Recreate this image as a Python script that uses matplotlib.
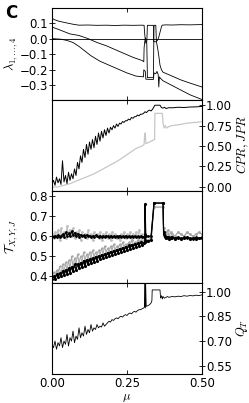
import numpy as np
import matplotlib
matplotlib.use("Agg")
import matplotlib.pyplot as plt

plt.rcParams['font.size'] = 8.5
plt.rcParams['mathtext.fontset'] = 'cm'

# panel 1: eigenvalues lambda_1..4
mu_l1 = [0, 0.01, 0.02, 0.04, 0.05, 0.07, 0.09, 0.12, 0.15, 0.18, 0.21, 0.24, 0.27, 0.30, 0.307,
         0.309, 0.311, 0.313, 0.316, 0.318, 0.338, 0.339, 0.347, 0.352, 0.356, 0.36, 0.364, 0.367,
         0.38, 0.40, 0.43, 0.46, 0.50]
lam1 = [0.13, 0.12, 0.113, 0.104, 0.10, 0.092, 0.086, 0.087, 0.085, 0.086, 0.084, 0.086, 0.085, 0.086, 0.085,
        0.03, -0.01, -0.03, -0.02, 0.085, 0.085, -0.02, -0.02, -0.01, 0.01, 0.04, 0.07, 0.086,
        0.088, 0.087, 0.089, 0.088, 0.09]
mu_l2 = [0, 0.02, 0.04, 0.06, 0.09, 0.12, 0.15, 0.18, 0.21, 0.24, 0.27, 0.30, 0.306,
         0.307, 0.309, 0.312, 0.316, 0.318, 0.338, 0.34, 0.346, 0.348, 0.352, 0.356, 0.36, 0.365,
         0.37, 0.40, 0.43, 0.46, 0.50]
lam2 = [0.074, 0.06, 0.045, 0.03, 0.02, 0.0, -0.025, -0.045, -0.07, -0.095, -0.12, -0.14, -0.148,
        -0.06, -0.02, 0.005, -0.03, -0.25, -0.25, 0.085, 0.085, -0.02, -0.06, -0.11, -0.17, -0.2,
        -0.215, -0.24, -0.265, -0.285, -0.31]
mu_l3 = [0, 0.03, 0.05, 0.07, 0.09, 0.11, 0.13, 0.16, 0.19, 0.22, 0.25, 0.28, 0.305,
         0.306, 0.309, 0.311, 0.313, 0.338, 0.34, 0.346, 0.35, 0.354, 0.356, 0.358, 0.362,
         0.37, 0.40, 0.43, 0.46, 0.50]
lam3 = [0.0, -0.004, -0.012, -0.025, -0.05, -0.08, -0.11, -0.145, -0.17, -0.195, -0.22, -0.24, -0.245,
        -0.2, -0.205, -0.21, -0.26, -0.262, -0.22, -0.225, -0.21, -0.23, -0.31, -0.245, -0.255,
        -0.27, -0.3, -0.33, -0.36, -0.39]

# panel 2: CPR (black) and JPR (gray)
cpr_head = [0.04, 0.08, 0.02, 0.12, 0.05, 0.10, 0.03, 0.32, 0.06, 0.14, 0.04, 0.18, 0.08, 0.16, 0.10,
            0.22, 0.14, 0.30, 0.22, 0.38, 0.30, 0.46, 0.36, 0.52, 0.40, 0.55, 0.46, 0.58, 0.48, 0.62,
            0.52, 0.66, 0.56, 0.68, 0.60, 0.70, 0.63, 0.72, 0.66, 0.73, 0.70, 0.75, 0.72, 0.77, 0.74,
            0.78, 0.77, 0.80, 0.79, 0.81, 0.81, 0.83, 0.82, 0.85, 0.84, 0.86, 0.86, 0.88, 0.87, 0.89, 0.89]
mu_cpr_tail = [0.305, 0.31, 0.315, 0.32, 0.325, 0.33, 0.335, 0.343, 0.35, 0.36, 0.365, 0.37, 0.375,
               0.38, 0.39, 0.40, 0.42, 0.44, 0.46, 0.48, 0.50]
cpr_tail = [0.90, 0.92, 0.91, 0.93, 0.94, 0.93, 0.95, 1.0, 1.0, 1.0, 0.97, 0.965, 0.975,
            0.96, 0.97, 0.968, 0.975, 0.972, 0.978, 0.98, 0.985]
mu_jpr = [0, 0.02, 0.04, 0.06, 0.08, 0.10, 0.12, 0.14, 0.16, 0.18, 0.20, 0.22, 0.24, 0.26, 0.28,
          0.30, 0.307, 0.309, 0.311, 0.313, 0.32, 0.33, 0.342, 0.343, 0.368, 0.37, 0.374, 0.378,
          0.382, 0.39, 0.40, 0.42, 0.45, 0.48, 0.50]
jpr = [0.0, 0.0, 0.02, 0.04, 0.07, 0.10, 0.13, 0.16, 0.20, 0.24, 0.28, 0.32, 0.37, 0.42, 0.47,
       0.50, 0.52, 0.65, 0.66, 0.53, 0.54, 0.56, 0.58, 0.90, 0.90, 0.78, 0.72, 0.75, 0.72,
       0.74, 0.75, 0.76, 0.78, 0.79, 0.80]

# panel 3: T_{X,Y,J}
t_flat_black = [0.600, 0.595, 0.603, 0.598, 0.605, 0.597, 0.602, 0.610, 0.598, 0.620, 0.603, 0.615,
                0.600, 0.625, 0.605, 0.618, 0.602, 0.612, 0.598, 0.608, 0.600, 0.604, 0.597, 0.606,
                0.600, 0.603, 0.596, 0.602, 0.598, 0.604, 0.600, 0.597, 0.603, 0.598, 0.601, 0.596,
                0.603, 0.599, 0.595, 0.602, 0.598, 0.600, 0.596, 0.601, 0.598, 0.603, 0.597, 0.600,
                0.595, 0.602, 0.598, 0.600, 0.596, 0.601, 0.597, 0.600, 0.595, 0.599, 0.596, 0.600, 0.598]
t_flat_gray = [0.61, 0.59, 0.62, 0.60, 0.63, 0.58, 0.64, 0.60, 0.62, 0.59, 0.65, 0.61, 0.63, 0.60, 0.64,
               0.59, 0.62, 0.61, 0.63, 0.58, 0.62, 0.60, 0.61, 0.59, 0.63, 0.60, 0.61, 0.58, 0.62, 0.60,
               0.61, 0.59, 0.62, 0.58, 0.61, 0.60, 0.62, 0.59, 0.61, 0.58, 0.62, 0.60, 0.61, 0.59, 0.60,
               0.58, 0.61, 0.60, 0.62, 0.59, 0.61, 0.60, 0.62, 0.58, 0.61, 0.60, 0.62, 0.59, 0.63, 0.60, 0.61]
t_rise_black = [0.385, 0.400, 0.388, 0.410, 0.395, 0.415, 0.400, 0.428, 0.405, 0.432, 0.412, 0.440,
                0.418, 0.448, 0.425, 0.460, 0.432, 0.462, 0.440, 0.468, 0.445, 0.478, 0.452, 0.482,
                0.460, 0.485, 0.465, 0.492, 0.472, 0.498, 0.478, 0.502, 0.485, 0.508, 0.490, 0.512,
                0.496, 0.518, 0.502, 0.524, 0.508, 0.528, 0.512, 0.534, 0.518, 0.538, 0.522, 0.544,
                0.528, 0.548, 0.532, 0.554, 0.538, 0.558, 0.542, 0.562, 0.548, 0.566, 0.552, 0.570, 0.558]
t_rise_gray = [0.40, 0.42, 0.39, 0.43, 0.41, 0.45, 0.40, 0.46, 0.42, 0.47, 0.43, 0.48, 0.44, 0.50, 0.45,
               0.49, 0.46, 0.51, 0.47, 0.50, 0.47, 0.52, 0.48, 0.51, 0.49, 0.52, 0.49, 0.53, 0.50, 0.52,
               0.50, 0.53, 0.51, 0.54, 0.51, 0.55, 0.52, 0.54, 0.52, 0.55, 0.53, 0.56, 0.53, 0.55, 0.54,
               0.56, 0.54, 0.57, 0.55, 0.56, 0.55, 0.57, 0.55, 0.58, 0.56, 0.57, 0.56, 0.58, 0.57, 0.58, 0.57]
mu_t_tail = [0.305, 0.309, 0.310, 0.313, 0.32, 0.33, 0.34, 0.37, 0.372, 0.375, 0.38, 0.385, 0.39,
             0.395, 0.40, 0.41, 0.42, 0.43, 0.44, 0.45, 0.46, 0.47, 0.48, 0.49, 0.50]
t_black_tail = [0.565, 0.57, 0.76, 0.575, 0.575, 0.58, 0.765, 0.765, 0.62, 0.60, 0.59, 0.595, 0.585,
                0.59, 0.595, 0.588, 0.592, 0.586, 0.59, 0.594, 0.588, 0.59, 0.586, 0.592, 0.59]
t_flat_tail = [0.598, 0.60, 0.61, 0.60, 0.60, 0.60, 0.765, 0.765, 0.61, 0.595, 0.59, 0.598, 0.59,
               0.595, 0.59, 0.592, 0.596, 0.59, 0.594, 0.59, 0.592, 0.588, 0.594, 0.59, 0.596]
t_gray_tail = [0.57, 0.58, 0.57, 0.58, 0.58, 0.59, 0.745, 0.745, 0.64, 0.62, 0.61, 0.63, 0.60,
               0.62, 0.61, 0.60, 0.62, 0.61, 0.60, 0.62, 0.61, 0.60, 0.61, 0.62, 0.61]

# panel 4: Q_T
q_head = [0.68, 0.66, 0.70, 0.65, 0.69, 0.67, 0.72, 0.66, 0.70, 0.68, 0.74, 0.67, 0.72, 0.70, 0.76,
          0.69, 0.73, 0.71, 0.78, 0.72, 0.75, 0.73, 0.79, 0.74, 0.77, 0.75, 0.80, 0.76, 0.78, 0.77,
          0.80, 0.78, 0.79, 0.785, 0.81, 0.79, 0.80, 0.81, 0.82, 0.815, 0.83, 0.825, 0.835, 0.84, 0.835,
          0.845, 0.85, 0.845, 0.855, 0.86, 0.855, 0.865, 0.87, 0.865, 0.875, 0.88, 0.875, 0.885, 0.89,
          0.89, 0.895]
mu_q_tail = [0.305, 0.308, 0.309, 0.311, 0.312, 0.314, 0.32, 0.325, 0.33, 0.333, 0.334, 0.36, 0.362,
             0.365, 0.368, 0.37, 0.375, 0.38, 0.385, 0.39, 0.40, 0.41, 0.42, 0.43, 0.44, 0.45, 0.46,
             0.47, 0.48, 0.49, 0.50]
q_tail = [0.90, 0.905, 1.06, 0.90, 1.06, 0.91, 0.915, 0.92, 0.93, 0.945, 1.01, 1.01, 0.96,
          0.975, 0.955, 0.97, 0.96, 0.965, 0.97, 0.965, 0.97, 0.968, 0.972, 0.97, 0.975, 0.972, 0.976,
          0.974, 0.978, 0.976, 0.98]


def head_mu(vals):
    return np.linspace(0, 0.30, len(vals))


W, H = 249, 403
fig = plt.figure(figsize=(W / 100, H / 100), dpi=100)
left, width = 52 / W, 150 / W
ph = 91.5 / H
bottoms = [1 - (8 + ph * H * (i + 1)) / H for i in range(4)]
axes = [fig.add_axes([left, b, width, ph]) for b in bottoms]
ax1, ax2, ax3, ax4 = axes

ax1.axhline(0, color='k', lw=0.6)
ax1.plot(mu_l1, lam1, color='k', lw=0.6)
ax1.plot(mu_l2, lam2, color='k', lw=0.6)
ax1.plot(mu_l3, lam3, color='k', lw=0.6)
ax1.set_ylim(-0.39, 0.196)
ax1.set_yticks([-0.3, -0.2, -0.1, 0.0, 0.1])
ax1.set_ylabel(r'$\lambda_{1,\ldots,4}$', fontsize=9)
ax1.yaxis.set_label_coords(-0.215, 0.5)

ax2.plot(mu_jpr, jpr, color='0.78', lw=0.9)
ax2.plot(np.concatenate([head_mu(cpr_head), mu_cpr_tail]), cpr_head + cpr_tail, color='k', lw=0.7)
ax2.set_ylim(-0.05, 1.07)
ax2.set_yticks([0, 0.25, 0.5, 0.75, 1.0])
ax2.yaxis.tick_right()
ax2.yaxis.set_label_position('right')
ax2.set_ylabel(r'$CPR, JPR$', fontsize=9)
ax2.yaxis.set_label_coords(1.215, 0.5)

mu_t = head_mu(t_flat_gray)
ax3.plot(np.concatenate([mu_t, mu_t_tail]), t_flat_gray + t_gray_tail, color='0.75', lw=0.8,
         marker='.', ms=2)
ax3.plot(np.concatenate([mu_t, mu_t_tail]), t_rise_gray + t_gray_tail, color='0.65', lw=0.7,
         marker='.', ms=1.5)
ax3.plot(np.concatenate([mu_t, mu_t_tail]), t_flat_black + t_flat_tail, color='k', lw=0.8,
         marker='.', ms=2)
ax3.plot(np.concatenate([mu_t, mu_t_tail]), t_rise_black + t_black_tail, color='k', lw=0.9,
         marker='.', ms=2.5)
ax3.set_ylim(0.37, 0.825)
ax3.set_yticks([0.4, 0.5, 0.6, 0.7, 0.8])
ax3.set_ylabel(r'$\mathcal{T}_{X,Y,J}$', fontsize=9)
ax3.yaxis.set_label_coords(-0.215, 0.5)

ax4.plot(np.concatenate([head_mu(q_head), mu_q_tail]), q_head + q_tail, color='k', lw=0.6)
ax4.set_ylim(0.50, 1.055)
ax4.set_yticks([0.55, 0.70, 0.85, 1.00])
ax4.yaxis.tick_right()
ax4.yaxis.set_label_position('right')
ax4.set_ylabel(r'$Q_T$', fontsize=9)
ax4.yaxis.set_label_coords(1.215, 0.5)
ax4.set_xlabel(r'$\mu$', fontsize=9, labelpad=1)

for ax in axes:
    ax.set_xlim(0, 0.5)
    ax.set_xticks([0, 0.25, 0.5])
    ax.tick_params(axis='x', direction='in', top=True, bottom=True, length=3, width=0.6, pad=2)
    ax.tick_params(axis='y', direction='inout', length=4, width=0.6, pad=1)
    for s in ax.spines.values():
        s.set_linewidth(0.8)
    if ax is not ax4:
        ax.tick_params(axis='x', labelbottom=False)
ax4.set_xticklabels(['0.00', '0.25', '0.50'])

fig.text(0.02, 0.99, 'C', fontsize=12, fontweight='bold', va='top', ha='left')

fig.savefig('out.png', dpi=100)
